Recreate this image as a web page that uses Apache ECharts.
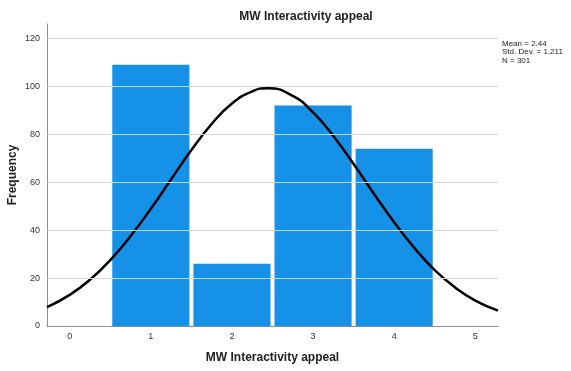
<!DOCTYPE html>
<html><head><meta charset="utf-8">
<script src="https://cdn.jsdelivr.net/npm/echarts@6/dist/echarts.min.js"></script>
<style>html,body{margin:0;padding:0;background:#fff}#c{width:571px;height:371px}</style>
</head><body><div id="c"></div>
<script>
const categories = [1, 2, 3, 4];
const frequencies = [109, 26, 92, 74];
const curveX = [-0.28, 0, 0.25, 0.5, 0.75, 1, 1.25, 1.5, 1.75, 2, 2.25, 2.44, 2.75, 3, 3.25, 3.5, 3.75, 4, 4.25, 4.5, 4.75, 5, 5.28];
const curveY = [7.9, 13.0, 19.3, 27.5, 37.5, 48.9, 61.2, 73.4, 84.3, 92.8, 97.9, 99.2, 96.0, 89.1, 79.3, 67.6, 55.2, 43.3, 32.5, 23.3, 16.1, 10.6, 6.4];
const xTicks = [0, 1, 2, 3, 4, 5];
const yTicks = [0, 20, 40, 60, 80, 100, 120];
const gridTicks = [20, 40, 60, 80, 100, 120];
const statsLines = ['Mean = 2.44', 'Std. Dev. = 1.211', 'N = 301'];
const titleText = 'MW Interactivity appeal';
const xName = 'MW Interactivity appeal';
const yName = 'Frequency';

const FONT = 'Liberation Sans, Arial, sans-serif';
const chart = echarts.init(document.getElementById('c'));
chart.setOption({
  animation: false,
  backgroundColor: '#fff',
  textStyle: { fontFamily: FONT },
  title: {
    text: titleText, left: 301, top: 6, textAlign: 'center',
    textStyle: { fontFamily: FONT, fontSize: 12, fontWeight: 'bold', color: '#222' }
  },
  graphic: [{
    type: 'text', left: 502, top: 39,
    style: { text: statsLines.join('\n'), font: '8px ' + FONT, fill: '#222', lineHeight: 8.6 }
  }],
  grid: { left: 47, right: 73, top: 24, bottom: 45, containLabel: false, outerBoundsMode: 'none' },
  xAxis: {
    type: 'value', min: -0.28, max: 5.28,
    name: xName, nameLocation: 'middle', nameGap: 26, nameMoveOverlap: false,
    nameTextStyle: { fontFamily: FONT, fontSize: 12, fontWeight: 'bold', color: '#222' },
    axisLine: { show: true, onZero: false, lineStyle: { color: '#8c8c8c', width: 1 } },
    axisTick: { show: false },
    splitLine: { show: false },
    axisLabel: { customValues: xTicks, fontSize: 9, color: '#333', margin: 6, fontFamily: FONT }
  },
  yAxis: {
    type: 'value', min: 0, max: 126,
    name: yName, nameLocation: 'middle', nameGap: 28, nameMoveOverlap: false,
    nameTextStyle: { fontFamily: FONT, fontSize: 12, fontWeight: 'bold', color: '#222' },
    axisLine: { show: true, onZero: false, lineStyle: { color: '#8c8c8c', width: 1 } },
    axisTick: { show: false },
    splitLine: { show: false },
    axisLabel: { customValues: yTicks, fontSize: 9, color: '#333', margin: 7, fontFamily: FONT }
  },
  series: [
    {
      type: 'line', data: [], z: 1, silent: true,
      markLine: {
        silent: true, symbol: ['none', 'none'], label: { show: false },
        lineStyle: { color: '#d4d4d4', width: 1, type: 'solid' },
        data: gridTicks.map(v => ({ yAxis: v }))
      }
    },
    {
      type: 'custom', z: 2,
      data: categories.map((c, i) => [c, frequencies[i]]),
      renderItem: function (params, api) {
        const x = api.value(0), y = api.value(1);
        const p0 = api.coord([x - 0.5, y]);
        const p1 = api.coord([x + 0.5, 0]);
        return {
          type: 'rect',
          shape: { x: p0[0] + 2, y: p0[1], width: p1[0] - p0[0] - 4, height: p1[1] - p0[1] },
          style: { fill: '#1591e8' }
        };
      }
    },
    {
      type: 'line', z: 3, smooth: true, symbol: 'none', clip: true,
      data: curveX.map((x, i) => [x, curveY[i]]),
      lineStyle: { color: '#000', width: 2.5 }
    }
  ]
});
</script></body></html>
